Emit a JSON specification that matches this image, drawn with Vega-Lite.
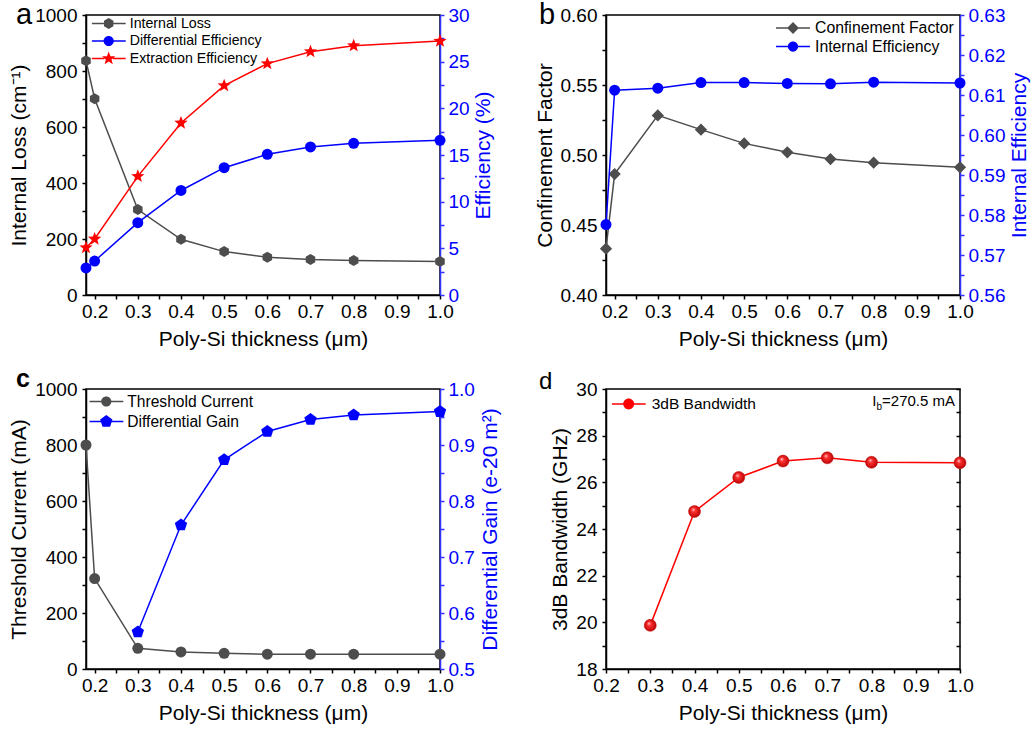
{
  "$schema": "https://vega.github.io/schema/vega-lite/v6.json",
  "background": "white",
  "padding": {"left": 7, "top": 0, "right": 5, "bottom": 5},
  "columns": 2,
  "spacing": {"row": 94, "column": 166},
  "bounds": "flush",
  "resolve": {"scale": {"color": "independent", "shape": "independent"}, "legend": {"color": "independent", "shape": "independent"}},
  "config": {
    "font": "Liberation Sans",
    "view": {"stroke": "#000", "strokeWidth": 1.5},
    "axis": {"grid": false, "domainColor": "#000", "domainWidth": 1.5, "tickColor": "#000", "tickWidth": 1.5, "tickSize": 4, "labelFont": "Liberation Sans", "labelFontSize": 19, "labelColor": "#000", "labelPadding": 3, "labelFlush": false, "labelOverlap": false, "labelBound": false, "titleFont": "Liberation Sans", "titleFontSize": 21, "titleFontWeight": "normal", "titleColor": "#000", "titlePadding": 4},
    "axisY": {"labelPadding": 5, "titlePadding": 5},
    "legend": {"labelFont": "Liberation Sans", "labelFontSize": 15, "labelColor": "#000", "symbolSize": 1156, "symbolStrokeWidth": 0, "symbolOpacity": 1, "clipHeight": 17, "padding": 0, "labelLimit": 400, "labelOffset": 4}
  },
  "datasets": {
    "a": [
      {"x": 0.18, "loss": 837, "de": 2.9, "ee": 5.07},
      {"x": 0.2, "loss": 701, "de": 3.64, "ee": 6.0},
      {"x": 0.3, "loss": 305, "de": 7.75, "ee": 12.71},
      {"x": 0.4, "loss": 199, "de": 11.2, "ee": 18.43},
      {"x": 0.5, "loss": 155, "de": 13.64, "ee": 22.43},
      {"x": 0.6, "loss": 135, "de": 15.07, "ee": 24.79},
      {"x": 0.7, "loss": 127, "de": 15.86, "ee": 26.07},
      {"x": 0.8, "loss": 123, "de": 16.25, "ee": 26.71},
      {"x": 1.0, "loss": 120, "de": 16.57, "ee": 27.21}
    ],
    "b": [
      {"x": 0.18, "cf": 0.4331, "ie": 0.5776},
      {"x": 0.2, "cf": 0.4864, "ie": 0.6112},
      {"x": 0.3, "cf": 0.5283, "ie": 0.6117},
      {"x": 0.4, "cf": 0.5181, "ie": 0.6131},
      {"x": 0.5, "cf": 0.5083, "ie": 0.6131},
      {"x": 0.6, "cf": 0.5019, "ie": 0.6129},
      {"x": 0.7, "cf": 0.4971, "ie": 0.6128},
      {"x": 0.8, "cf": 0.4945, "ie": 0.6132},
      {"x": 1.0, "cf": 0.4912, "ie": 0.613}
    ],
    "c": [
      {"x": 0.18, "tc": 800, "dg": null},
      {"x": 0.2, "tc": 323, "dg": null},
      {"x": 0.3, "tc": 74, "dg": 0.566},
      {"x": 0.4, "tc": 61, "dg": 0.757},
      {"x": 0.5, "tc": 56, "dg": 0.8735},
      {"x": 0.6, "tc": 53, "dg": 0.924},
      {"x": 0.7, "tc": 53, "dg": 0.9454},
      {"x": 0.8, "tc": 53, "dg": 0.9537},
      {"x": 1.0, "tc": 53, "dg": 0.9596}
    ],
    "d": [
      {"x": 0.3, "bw": 19.87},
      {"x": 0.4, "bw": 24.75},
      {"x": 0.5, "bw": 26.21},
      {"x": 0.6, "bw": 26.91},
      {"x": 0.7, "bw": 27.05},
      {"x": 0.8, "bw": 26.86},
      {"x": 1.0, "bw": 26.84}
    ]
  },
  "concat": [
    {
      "width": 354, "height": 280,
      "data": {"name": "a"},
      "layer": [
        {"layer": [
          {"mark": {"type": "line", "color": "#4d4d4d", "strokeWidth": 1.5},
           "encoding": {
             "x": {"field": "x", "type": "quantitative", "scale": {"domain": [0.18, 1.0], "nice": false, "zero": false}, "axis": {"values": [0.2,0.25,0.3,0.35,0.4,0.45,0.5,0.55,0.6,0.65,0.7,0.75,0.8,0.85,0.9,0.95,1.0], "labelExpr": "round(datum.value*100) % 10 == 0 ? format(datum.value, '.1f') : ''", "title": "Poly-Si thickness (μm)", "titlePadding": 7}},
             "y": {"field": "loss", "type": "quantitative", "scale": {"domain": [0, 1000], "nice": false, "zero": false}, "axis": {"orient": "left", "values": [0,100,200,300,400,500,600,700,800,900,1000], "labelExpr": "round(datum.value) % 200 == 0 ? format(datum.value, 'd') : ''", "title": "Internal Loss (cm⁻¹)"}}
           }},
          {"mark": {"type": "point", "filled": true, "opacity": 1, "color": "#4d4d4d", "shape": "M0,-1L0.866,-0.5L0.866,0.5L0,1L-0.866,0.5L-0.866,-0.5Z", "size": 121},
           "encoding": {
             "x": {"field": "x", "type": "quantitative", "scale": {"domain": [0.18, 1.0], "nice": false, "zero": false}, "axis": {"values": [0.2,0.25,0.3,0.35,0.4,0.45,0.5,0.55,0.6,0.65,0.7,0.75,0.8,0.85,0.9,0.95,1.0], "labelExpr": "round(datum.value*100) % 10 == 0 ? format(datum.value, '.1f') : ''", "title": "Poly-Si thickness (μm)", "titlePadding": 7}},
             "y": {"field": "loss", "type": "quantitative", "scale": {"domain": [0, 1000], "nice": false, "zero": false}, "axis": {"orient": "left", "values": [0,100,200,300,400,500,600,700,800,900,1000], "labelExpr": "round(datum.value) % 200 == 0 ? format(datum.value, 'd') : ''", "title": "Internal Loss (cm⁻¹)"}}
           }},
          {"data": {"values": [{"t": "a"}]},
           "mark": {"type": "text", "align": "left", "baseline": "alphabetic", "dx": -70, "dy": 9, "fontSize": 29, "color": "#000"},
           "encoding": {
             "x": {"datum": 0.18, "type": "quantitative", "scale": {"domain": [0.18, 1.0], "nice": false, "zero": false}, "axis": {"values": [0.2,0.25,0.3,0.35,0.4,0.45,0.5,0.55,0.6,0.65,0.7,0.75,0.8,0.85,0.9,0.95,1.0], "labelExpr": "round(datum.value*100) % 10 == 0 ? format(datum.value, '.1f') : ''", "title": "Poly-Si thickness (μm)", "titlePadding": 7}},
             "y": {"datum": 1000, "type": "quantitative", "scale": {"domain": [0, 1000], "nice": false, "zero": false}, "axis": {"orient": "left", "values": [0,100,200,300,400,500,600,700,800,900,1000], "labelExpr": "round(datum.value) % 200 == 0 ? format(datum.value, 'd') : ''", "title": "Internal Loss (cm⁻¹)"}},
             "text": {"field": "t"}
           }}
        ]},
        {"layer": [
          {"mark": {"type": "line", "color": "#0000ff", "strokeWidth": 1.5},
           "encoding": {
             "x": {"field": "x", "type": "quantitative", "scale": {"domain": [0.18, 1.0], "nice": false, "zero": false}, "axis": {"values": [0.2,0.25,0.3,0.35,0.4,0.45,0.5,0.55,0.6,0.65,0.7,0.75,0.8,0.85,0.9,0.95,1.0], "labelExpr": "round(datum.value*100) % 10 == 0 ? format(datum.value, '.1f') : ''", "title": "Poly-Si thickness (μm)", "titlePadding": 7}},
             "y": {"field": "de", "type": "quantitative", "scale": {"domain": [0, 30], "nice": false, "zero": false}, "axis": {"orient": "right", "values": [0,2.5,5,7.5,10,12.5,15,17.5,20,22.5,25,27.5,30], "labelExpr": "round(datum.value*10) % 50 == 0 ? format(datum.value, 'd') : ''", "title": "Efficiency (%)", "titleAngle": 270, "titleBaseline": "top", "labelPadding": 4, "titlePadding": 3, "domainColor": "#3333ff", "tickColor": "#3333ff", "labelColor": "#0000ff", "titleColor": "#0000ff"}}
           }},
          {"mark": {"type": "point", "filled": true, "opacity": 1, "color": "#0000ff", "shape": "circle", "size": 121},
           "encoding": {
             "x": {"field": "x", "type": "quantitative", "scale": {"domain": [0.18, 1.0], "nice": false, "zero": false}, "axis": {"values": [0.2,0.25,0.3,0.35,0.4,0.45,0.5,0.55,0.6,0.65,0.7,0.75,0.8,0.85,0.9,0.95,1.0], "labelExpr": "round(datum.value*100) % 10 == 0 ? format(datum.value, '.1f') : ''", "title": "Poly-Si thickness (μm)", "titlePadding": 7}},
             "y": {"field": "de", "type": "quantitative", "scale": {"domain": [0, 30], "nice": false, "zero": false}, "axis": {"orient": "right", "values": [0,2.5,5,7.5,10,12.5,15,17.5,20,22.5,25,27.5,30], "labelExpr": "round(datum.value*10) % 50 == 0 ? format(datum.value, 'd') : ''", "title": "Efficiency (%)", "titleAngle": 270, "titleBaseline": "top", "labelPadding": 4, "titlePadding": 3, "domainColor": "#3333ff", "tickColor": "#3333ff", "labelColor": "#0000ff", "titleColor": "#0000ff"}}
           }},
          {"mark": {"type": "line", "color": "#ff0000", "strokeWidth": 1.5},
           "encoding": {
             "x": {"field": "x", "type": "quantitative", "scale": {"domain": [0.18, 1.0], "nice": false, "zero": false}, "axis": {"values": [0.2,0.25,0.3,0.35,0.4,0.45,0.5,0.55,0.6,0.65,0.7,0.75,0.8,0.85,0.9,0.95,1.0], "labelExpr": "round(datum.value*100) % 10 == 0 ? format(datum.value, '.1f') : ''", "title": "Poly-Si thickness (μm)", "titlePadding": 7}},
             "y": {"field": "ee", "type": "quantitative", "scale": {"domain": [0, 30], "nice": false, "zero": false}, "axis": {"orient": "right", "values": [0,2.5,5,7.5,10,12.5,15,17.5,20,22.5,25,27.5,30], "labelExpr": "round(datum.value*10) % 50 == 0 ? format(datum.value, 'd') : ''", "title": "Efficiency (%)", "titleAngle": 270, "titleBaseline": "top", "labelPadding": 4, "titlePadding": 3, "domainColor": "#3333ff", "tickColor": "#3333ff", "labelColor": "#0000ff", "titleColor": "#0000ff"}}
           }},
          {"mark": {"type": "point", "filled": true, "opacity": 1, "color": "#ff0000", "shape": "M0,-1L0.247,-0.34L0.951,-0.309L0.399,0.13L0.588,0.809L0,0.42L-0.588,0.809L-0.399,0.13L-0.951,-0.309L-0.247,-0.34Z", "size": 196},
           "encoding": {
             "x": {"field": "x", "type": "quantitative", "scale": {"domain": [0.18, 1.0], "nice": false, "zero": false}, "axis": {"values": [0.2,0.25,0.3,0.35,0.4,0.45,0.5,0.55,0.6,0.65,0.7,0.75,0.8,0.85,0.9,0.95,1.0], "labelExpr": "round(datum.value*100) % 10 == 0 ? format(datum.value, '.1f') : ''", "title": "Poly-Si thickness (μm)", "titlePadding": 7}},
             "y": {"field": "ee", "type": "quantitative", "scale": {"domain": [0, 30], "nice": false, "zero": false}, "axis": {"orient": "right", "values": [0,2.5,5,7.5,10,12.5,15,17.5,20,22.5,25,27.5,30], "labelExpr": "round(datum.value*10) % 50 == 0 ? format(datum.value, 'd') : ''", "title": "Efficiency (%)", "titleAngle": 270, "titleBaseline": "top", "labelPadding": 4, "titlePadding": 3, "domainColor": "#3333ff", "tickColor": "#3333ff", "labelColor": "#0000ff", "titleColor": "#0000ff"}}
           }}
        ]},
        {"data": {"values": [{"s": "Internal Loss"}, {"s": "Differential Efficiency"}, {"s": "Extraction Efficiency"}]},
         "mark": {"type": "point", "filled": true, "opacity": 0, "size": 1156},
         "encoding": {
           "color": {"field": "s", "type": "nominal", "scale": {"domain": ["Internal Loss", "Differential Efficiency", "Extraction Efficiency"], "range": ["#4d4d4d", "#0000ff", "#ff0000"]}, "legend": {"title": null, "orient": "none", "legendX": 5.7, "legendY": 0, "rowPadding": 0.5, "labelFontSize": 14.2}},
           "shape": {"field": "s", "type": "nominal", "scale": {"domain": ["Internal Loss", "Differential Efficiency", "Extraction Efficiency"], "range": [
             "M-1,-0.044H-0.25V0.044H-1ZM0.25,-0.044H1V0.044H0.25ZM0,-0.32L0.277,-0.16L0.277,0.16L0,0.32L-0.277,0.16L-0.277,-0.16Z",
             "M-1,-0.044H-0.25V0.044H-1ZM0.25,-0.044H1V0.044H0.25ZM-0.3,0A0.3,0.3,0,1,1,0.3,0A0.3,0.3,0,1,1,-0.3,0Z",
             "M-1,-0.044H-0.25V0.044H-1ZM0.25,-0.044H1V0.044H0.25ZM0,-0.41L0.101,-0.139L0.39,-0.127L0.164,0.053L0.241,0.332L0,0.172L-0.241,0.332L-0.164,0.053L-0.39,-0.127L-0.101,-0.139Z"
           ]}, "legend": {"title": null, "orient": "none", "legendX": 5.7, "legendY": 0, "rowPadding": 0.5, "labelFontSize": 14.2}}
         }}
      ],
      "resolve": {"scale": {"y": "independent"}}
    },
    {
      "width": 354, "height": 280,
      "data": {"name": "b"},
      "layer": [
        {"layer": [
          {"mark": {"type": "line", "color": "#4d4d4d", "strokeWidth": 1.5},
           "encoding": {
             "x": {"field": "x", "type": "quantitative", "scale": {"domain": [0.18, 1.0], "nice": false, "zero": false}, "axis": {"values": [0.2,0.25,0.3,0.35,0.4,0.45,0.5,0.55,0.6,0.65,0.7,0.75,0.8,0.85,0.9,0.95,1.0], "labelExpr": "round(datum.value*100) % 10 == 0 ? format(datum.value, '.1f') : ''", "title": "Poly-Si thickness (μm)", "titlePadding": 7}},
             "y": {"field": "cf", "type": "quantitative", "scale": {"domain": [0.4, 0.6], "nice": false, "zero": false}, "axis": {"orient": "left", "values": [0.4,0.425,0.45,0.475,0.5,0.525,0.55,0.575,0.6], "labelExpr": "round(datum.value*1000) % 50 == 0 ? format(datum.value, '.2f') : ''", "title": "Confinement Factor"}}
           }},
          {"mark": {"type": "point", "filled": true, "opacity": 1, "color": "#4d4d4d", "shape": "diamond", "size": 150},
           "encoding": {
             "x": {"field": "x", "type": "quantitative", "scale": {"domain": [0.18, 1.0], "nice": false, "zero": false}, "axis": {"values": [0.2,0.25,0.3,0.35,0.4,0.45,0.5,0.55,0.6,0.65,0.7,0.75,0.8,0.85,0.9,0.95,1.0], "labelExpr": "round(datum.value*100) % 10 == 0 ? format(datum.value, '.1f') : ''", "title": "Poly-Si thickness (μm)", "titlePadding": 7}},
             "y": {"field": "cf", "type": "quantitative", "scale": {"domain": [0.4, 0.6], "nice": false, "zero": false}, "axis": {"orient": "left", "values": [0.4,0.425,0.45,0.475,0.5,0.525,0.55,0.575,0.6], "labelExpr": "round(datum.value*1000) % 50 == 0 ? format(datum.value, '.2f') : ''", "title": "Confinement Factor"}}
           }}
        ]},
        {"layer": [
          {"mark": {"type": "line", "color": "#0000ff", "strokeWidth": 1.5},
           "encoding": {
             "x": {"field": "x", "type": "quantitative", "scale": {"domain": [0.18, 1.0], "nice": false, "zero": false}, "axis": {"values": [0.2,0.25,0.3,0.35,0.4,0.45,0.5,0.55,0.6,0.65,0.7,0.75,0.8,0.85,0.9,0.95,1.0], "labelExpr": "round(datum.value*100) % 10 == 0 ? format(datum.value, '.1f') : ''", "title": "Poly-Si thickness (μm)", "titlePadding": 7}},
             "y": {"field": "ie", "type": "quantitative", "scale": {"domain": [0.56, 0.63], "nice": false, "zero": false}, "axis": {"orient": "right", "values": [0.56,0.565,0.57,0.575,0.58,0.585,0.59,0.595,0.6,0.605,0.61,0.615,0.62,0.625,0.63], "labelExpr": "round(datum.value*1000) % 10 == 0 ? format(datum.value, '.2f') : ''", "title": "Internal Efficiency", "titleAngle": 270, "titleBaseline": "top", "labelPadding": 4, "titlePadding": 4, "domainColor": "#3333ff", "tickColor": "#3333ff", "labelColor": "#0000ff", "titleColor": "#0000ff"}}
           }},
          {"mark": {"type": "point", "filled": true, "opacity": 1, "color": "#0000ff", "shape": "circle", "size": 121},
           "encoding": {
             "x": {"field": "x", "type": "quantitative", "scale": {"domain": [0.18, 1.0], "nice": false, "zero": false}, "axis": {"values": [0.2,0.25,0.3,0.35,0.4,0.45,0.5,0.55,0.6,0.65,0.7,0.75,0.8,0.85,0.9,0.95,1.0], "labelExpr": "round(datum.value*100) % 10 == 0 ? format(datum.value, '.1f') : ''", "title": "Poly-Si thickness (μm)", "titlePadding": 7}},
             "y": {"field": "ie", "type": "quantitative", "scale": {"domain": [0.56, 0.63], "nice": false, "zero": false}, "axis": {"orient": "right", "values": [0.56,0.565,0.57,0.575,0.58,0.585,0.59,0.595,0.6,0.605,0.61,0.615,0.62,0.625,0.63], "labelExpr": "round(datum.value*1000) % 10 == 0 ? format(datum.value, '.2f') : ''", "title": "Internal Efficiency", "titleAngle": 270, "titleBaseline": "top", "labelPadding": 4, "titlePadding": 4, "domainColor": "#3333ff", "tickColor": "#3333ff", "labelColor": "#0000ff", "titleColor": "#0000ff"}}
           }},
          {"data": {"values": [{"t": "b"}]},
           "mark": {"type": "text", "align": "left", "baseline": "alphabetic", "dx": -67, "dy": 9, "fontSize": 29, "color": "#000"},
           "encoding": {
             "x": {"datum": 0.18, "type": "quantitative", "scale": {"domain": [0.18, 1.0], "nice": false, "zero": false}, "axis": {"values": [0.2,0.25,0.3,0.35,0.4,0.45,0.5,0.55,0.6,0.65,0.7,0.75,0.8,0.85,0.9,0.95,1.0], "labelExpr": "round(datum.value*100) % 10 == 0 ? format(datum.value, '.1f') : ''", "title": "Poly-Si thickness (μm)", "titlePadding": 7}},
             "y": {"datum": 0.63, "type": "quantitative", "scale": {"domain": [0.56, 0.63], "nice": false, "zero": false}, "axis": {"orient": "right", "values": [0.56,0.565,0.57,0.575,0.58,0.585,0.59,0.595,0.6,0.605,0.61,0.615,0.62,0.625,0.63], "labelExpr": "round(datum.value*1000) % 10 == 0 ? format(datum.value, '.2f') : ''", "title": "Internal Efficiency", "titleAngle": 270, "titleBaseline": "top", "labelPadding": 4, "titlePadding": 4, "domainColor": "#3333ff", "tickColor": "#3333ff", "labelColor": "#0000ff", "titleColor": "#0000ff"}},
             "text": {"field": "t"}
           }}
        ]},
        {"data": {"values": [{"s": "Confinement Factor"}, {"s": "Internal Efficiency"}]},
         "mark": {"type": "point", "filled": true, "opacity": 0, "size": 1156},
         "encoding": {
           "color": {"field": "s", "type": "nominal", "scale": {"domain": ["Confinement Factor", "Internal Efficiency"], "range": ["#4d4d4d", "#0000ff"]}, "legend": {"title": null, "orient": "none", "legendX": 170, "legendY": 4.5, "rowPadding": 1.6, "labelOffset": 5, "labelFontSize": 15.8}},
           "shape": {"field": "s", "type": "nominal", "scale": {"domain": ["Confinement Factor", "Internal Efficiency"], "range": [
             "M-1,-0.044H-0.25V0.044H-1ZM0.25,-0.044H1V0.044H0.25ZM0,-0.35L0.35,0L0,0.35L-0.35,0Z",
             "M-1,-0.044H-0.25V0.044H-1ZM0.25,-0.044H1V0.044H0.25ZM-0.3,0A0.3,0.3,0,1,1,0.3,0A0.3,0.3,0,1,1,-0.3,0Z"
           ]}, "legend": {"title": null, "orient": "none", "legendX": 170, "legendY": 4.5, "rowPadding": 1.6, "labelOffset": 5, "labelFontSize": 15.8}}
         }}
      ],
      "resolve": {"scale": {"y": "independent"}}
    },
    {
      "width": 354, "height": 280,
      "data": {"name": "c"},
      "layer": [
        {"layer": [
          {"mark": {"type": "line", "color": "#4d4d4d", "strokeWidth": 1.5},
           "encoding": {
             "x": {"field": "x", "type": "quantitative", "scale": {"domain": [0.18, 1.0], "nice": false, "zero": false}, "axis": {"values": [0.2,0.25,0.3,0.35,0.4,0.45,0.5,0.55,0.6,0.65,0.7,0.75,0.8,0.85,0.9,0.95,1.0], "labelExpr": "round(datum.value*100) % 10 == 0 ? format(datum.value, '.1f') : ''", "title": "Poly-Si thickness (μm)", "titlePadding": 7}},
             "y": {"field": "tc", "type": "quantitative", "scale": {"domain": [0, 1000], "nice": false, "zero": false}, "axis": {"orient": "left", "values": [0,100,200,300,400,500,600,700,800,900,1000], "labelExpr": "round(datum.value) % 200 == 0 ? format(datum.value, 'd') : ''", "title": "Threshold Current (mA)"}}
           }},
          {"mark": {"type": "point", "filled": true, "opacity": 1, "color": "#4d4d4d", "shape": "circle", "size": 121},
           "encoding": {
             "x": {"field": "x", "type": "quantitative", "scale": {"domain": [0.18, 1.0], "nice": false, "zero": false}, "axis": {"values": [0.2,0.25,0.3,0.35,0.4,0.45,0.5,0.55,0.6,0.65,0.7,0.75,0.8,0.85,0.9,0.95,1.0], "labelExpr": "round(datum.value*100) % 10 == 0 ? format(datum.value, '.1f') : ''", "title": "Poly-Si thickness (μm)", "titlePadding": 7}},
             "y": {"field": "tc", "type": "quantitative", "scale": {"domain": [0, 1000], "nice": false, "zero": false}, "axis": {"orient": "left", "values": [0,100,200,300,400,500,600,700,800,900,1000], "labelExpr": "round(datum.value) % 200 == 0 ? format(datum.value, 'd') : ''", "title": "Threshold Current (mA)"}}
           }},
          {"data": {"values": [{"t": "c"}]},
           "mark": {"type": "text", "align": "left", "baseline": "alphabetic", "dx": -70, "dy": -2, "fontSize": 25, "fontWeight": "bold", "color": "#000"},
           "encoding": {
             "x": {"datum": 0.18, "type": "quantitative", "scale": {"domain": [0.18, 1.0], "nice": false, "zero": false}, "axis": {"values": [0.2,0.25,0.3,0.35,0.4,0.45,0.5,0.55,0.6,0.65,0.7,0.75,0.8,0.85,0.9,0.95,1.0], "labelExpr": "round(datum.value*100) % 10 == 0 ? format(datum.value, '.1f') : ''", "title": "Poly-Si thickness (μm)", "titlePadding": 7}},
             "y": {"datum": 1000, "type": "quantitative", "scale": {"domain": [0, 1000], "nice": false, "zero": false}, "axis": {"orient": "left", "values": [0,100,200,300,400,500,600,700,800,900,1000], "labelExpr": "round(datum.value) % 200 == 0 ? format(datum.value, 'd') : ''", "title": "Threshold Current (mA)"}},
             "text": {"field": "t"}
           }}
        ]},
        {"transform": [{"filter": "isValid(datum.dg)"}],
         "layer": [
          {"mark": {"type": "line", "color": "#0000ff", "strokeWidth": 1.5},
           "encoding": {
             "x": {"field": "x", "type": "quantitative", "scale": {"domain": [0.18, 1.0], "nice": false, "zero": false}, "axis": {"values": [0.2,0.25,0.3,0.35,0.4,0.45,0.5,0.55,0.6,0.65,0.7,0.75,0.8,0.85,0.9,0.95,1.0], "labelExpr": "round(datum.value*100) % 10 == 0 ? format(datum.value, '.1f') : ''", "title": "Poly-Si thickness (μm)", "titlePadding": 7}},
             "y": {"field": "dg", "type": "quantitative", "scale": {"domain": [0.5, 1.0], "nice": false, "zero": false}, "axis": {"orient": "right", "values": [0.5,0.55,0.6,0.65,0.7,0.75,0.8,0.85,0.9,0.95,1.0], "labelExpr": "round(datum.value*100) % 10 == 0 ? format(datum.value, '.1f') : ''", "title": "Differential Gain (e-20 m²)", "titleAngle": 270, "titleBaseline": "top", "labelPadding": 4, "titlePadding": 5, "domainColor": "#3333ff", "tickColor": "#3333ff", "labelColor": "#0000ff", "titleColor": "#0000ff"}}
           }},
          {"mark": {"type": "point", "filled": true, "opacity": 1, "color": "#0000ff", "shape": "M0,-1L0.951,-0.309L0.588,0.809L-0.588,0.809L-0.951,-0.309Z", "size": 169},
           "encoding": {
             "x": {"field": "x", "type": "quantitative", "scale": {"domain": [0.18, 1.0], "nice": false, "zero": false}, "axis": {"values": [0.2,0.25,0.3,0.35,0.4,0.45,0.5,0.55,0.6,0.65,0.7,0.75,0.8,0.85,0.9,0.95,1.0], "labelExpr": "round(datum.value*100) % 10 == 0 ? format(datum.value, '.1f') : ''", "title": "Poly-Si thickness (μm)", "titlePadding": 7}},
             "y": {"field": "dg", "type": "quantitative", "scale": {"domain": [0.5, 1.0], "nice": false, "zero": false}, "axis": {"orient": "right", "values": [0.5,0.55,0.6,0.65,0.7,0.75,0.8,0.85,0.9,0.95,1.0], "labelExpr": "round(datum.value*100) % 10 == 0 ? format(datum.value, '.1f') : ''", "title": "Differential Gain (e-20 m²)", "titleAngle": 270, "titleBaseline": "top", "labelPadding": 4, "titlePadding": 5, "domainColor": "#3333ff", "tickColor": "#3333ff", "labelColor": "#0000ff", "titleColor": "#0000ff"}}
           }}
        ]},
        {"data": {"values": [{"s": "Threshold Current"}, {"s": "Differential Gain"}]},
         "mark": {"type": "point", "filled": true, "opacity": 0, "size": 1156},
         "encoding": {
           "color": {"field": "s", "type": "nominal", "scale": {"domain": ["Threshold Current", "Differential Gain"], "range": ["#4d4d4d", "#0000ff"]}, "legend": {"title": null, "orient": "none", "legendX": 3.3, "legendY": 4, "rowPadding": 2, "labelFontSize": 15.6}},
           "shape": {"field": "s", "type": "nominal", "scale": {"domain": ["Threshold Current", "Differential Gain"], "range": [
             "M-1,-0.044H-0.25V0.044H-1ZM0.25,-0.044H1V0.044H0.25ZM-0.3,0A0.3,0.3,0,1,1,0.3,0A0.3,0.3,0,1,1,-0.3,0Z",
             "M-1,-0.044H-0.25V0.044H-1ZM0.25,-0.044H1V0.044H0.25ZM0,-0.38L0.361,-0.117L0.223,0.307L-0.223,0.307L-0.361,-0.117Z"
           ]}, "legend": {"title": null, "orient": "none", "legendX": 3.3, "legendY": 4, "rowPadding": 2, "labelFontSize": 15.6}}
         }}
      ],
      "resolve": {"scale": {"y": "independent"}}
    },
    {
      "width": 354, "height": 280,
      "data": {"name": "d"},
      "layer": [
        {"layer": [
          {"mark": {"type": "line", "color": "#ff0000", "strokeWidth": 1.5},
           "encoding": {
             "x": {"field": "x", "type": "quantitative", "scale": {"domain": [0.2, 1.0], "nice": false, "zero": false}, "axis": {"values": [0.2,0.25,0.3,0.35,0.4,0.45,0.5,0.55,0.6,0.65,0.7,0.75,0.8,0.85,0.9,0.95,1.0], "labelExpr": "round(datum.value*100) % 10 == 0 ? format(datum.value, '.1f') : ''", "title": "Poly-Si thickness (μm)", "titlePadding": 7}},
             "y": {"field": "bw", "type": "quantitative", "scale": {"domain": [18, 30], "nice": false, "zero": false}, "axis": {"orient": "left", "values": [18,19,20,21,22,23,24,25,26,27,28,29,30], "labelExpr": "round(datum.value) % 2 == 0 ? format(datum.value, 'd') : ''", "title": "3dB Bandwidth (GHz)"}}
           }},
          {"mark": {"type": "point", "filled": true, "opacity": 1, "shape": "circle", "size": 144, "stroke": "#c00000", "strokeWidth": 0.5,
                    "fill": {"gradient": "radial", "x1": 0.38, "y1": 0.32, "r1": 0, "x2": 0.5, "y2": 0.5, "r2": 0.55, "stops": [{"offset": 0, "color": "#ffe0e0"}, {"offset": 0.3, "color": "#ff3030"}, {"offset": 1, "color": "#b00000"}]}},
           "encoding": {
             "x": {"field": "x", "type": "quantitative", "scale": {"domain": [0.2, 1.0], "nice": false, "zero": false}, "axis": {"values": [0.2,0.25,0.3,0.35,0.4,0.45,0.5,0.55,0.6,0.65,0.7,0.75,0.8,0.85,0.9,0.95,1.0], "labelExpr": "round(datum.value*100) % 10 == 0 ? format(datum.value, '.1f') : ''", "title": "Poly-Si thickness (μm)", "titlePadding": 7}},
             "y": {"field": "bw", "type": "quantitative", "scale": {"domain": [18, 30], "nice": false, "zero": false}, "axis": {"orient": "left", "values": [18,19,20,21,22,23,24,25,26,27,28,29,30], "labelExpr": "round(datum.value) % 2 == 0 ? format(datum.value, 'd') : ''", "title": "3dB Bandwidth (GHz)"}}
           }},
          {"data": {"values": [{"t": "d"}]},
           "mark": {"type": "text", "align": "left", "baseline": "alphabetic", "dx": -67, "dy": 0, "fontSize": 24, "color": "#000"},
           "encoding": {
             "x": {"datum": 0.2, "type": "quantitative", "scale": {"domain": [0.2, 1.0], "nice": false, "zero": false}, "axis": {"values": [0.2,0.25,0.3,0.35,0.4,0.45,0.5,0.55,0.6,0.65,0.7,0.75,0.8,0.85,0.9,0.95,1.0], "labelExpr": "round(datum.value*100) % 10 == 0 ? format(datum.value, '.1f') : ''", "title": "Poly-Si thickness (μm)", "titlePadding": 7}},
             "y": {"datum": 30, "type": "quantitative", "scale": {"domain": [18, 30], "nice": false, "zero": false}, "axis": {"orient": "left", "values": [18,19,20,21,22,23,24,25,26,27,28,29,30], "labelExpr": "round(datum.value) % 2 == 0 ? format(datum.value, 'd') : ''", "title": "3dB Bandwidth (GHz)"}},
             "text": {"field": "t"}
           }},
          {"data": {"values": [{"x": 1.0, "bw": 29.29, "t": "=270.5 mA"}]},
           "mark": {"type": "text", "align": "right", "baseline": "alphabetic", "dx": -5, "fontSize": 15, "color": "#000"},
           "encoding": {
             "x": {"field": "x", "type": "quantitative", "scale": {"domain": [0.2, 1.0], "nice": false, "zero": false}, "axis": {"values": [0.2,0.25,0.3,0.35,0.4,0.45,0.5,0.55,0.6,0.65,0.7,0.75,0.8,0.85,0.9,0.95,1.0], "labelExpr": "round(datum.value*100) % 10 == 0 ? format(datum.value, '.1f') : ''", "title": "Poly-Si thickness (μm)", "titlePadding": 7}},
             "y": {"field": "bw", "type": "quantitative", "scale": {"domain": [18, 30], "nice": false, "zero": false}, "axis": {"orient": "left", "values": [18,19,20,21,22,23,24,25,26,27,28,29,30], "labelExpr": "round(datum.value) % 2 == 0 ? format(datum.value, 'd') : ''", "title": "3dB Bandwidth (GHz)"}},
             "text": {"field": "t"}
           }},
          {"data": {"values": [{"x": 1.0, "bw": 29.29, "t": "b"}]},
           "mark": {"type": "text", "align": "right", "baseline": "alphabetic", "dx": -78, "dy": 4, "fontSize": 10, "color": "#000"},
           "encoding": {
             "x": {"field": "x", "type": "quantitative", "scale": {"domain": [0.2, 1.0], "nice": false, "zero": false}, "axis": {"values": [0.2,0.25,0.3,0.35,0.4,0.45,0.5,0.55,0.6,0.65,0.7,0.75,0.8,0.85,0.9,0.95,1.0], "labelExpr": "round(datum.value*100) % 10 == 0 ? format(datum.value, '.1f') : ''", "title": "Poly-Si thickness (μm)", "titlePadding": 7}},
             "y": {"field": "bw", "type": "quantitative", "scale": {"domain": [18, 30], "nice": false, "zero": false}, "axis": {"orient": "left", "values": [18,19,20,21,22,23,24,25,26,27,28,29,30], "labelExpr": "round(datum.value) % 2 == 0 ? format(datum.value, 'd') : ''", "title": "3dB Bandwidth (GHz)"}},
             "text": {"field": "t"}
           }},
          {"data": {"values": [{"x": 1.0, "bw": 29.29, "t": "I"}]},
           "mark": {"type": "text", "align": "right", "baseline": "alphabetic", "dx": -83.6, "fontSize": 15, "color": "#000"},
           "encoding": {
             "x": {"field": "x", "type": "quantitative", "scale": {"domain": [0.2, 1.0], "nice": false, "zero": false}, "axis": {"values": [0.2,0.25,0.3,0.35,0.4,0.45,0.5,0.55,0.6,0.65,0.7,0.75,0.8,0.85,0.9,0.95,1.0], "labelExpr": "round(datum.value*100) % 10 == 0 ? format(datum.value, '.1f') : ''", "title": "Poly-Si thickness (μm)", "titlePadding": 7}},
             "y": {"field": "bw", "type": "quantitative", "scale": {"domain": [18, 30], "nice": false, "zero": false}, "axis": {"orient": "left", "values": [18,19,20,21,22,23,24,25,26,27,28,29,30], "labelExpr": "round(datum.value) % 2 == 0 ? format(datum.value, 'd') : ''", "title": "3dB Bandwidth (GHz)"}},
             "text": {"field": "t"}
           }},
          {"data": {"values": [{"s": "3dB Bandwidth"}]},
           "mark": {"type": "point", "filled": true, "opacity": 0, "size": 1156},
           "encoding": {
             "color": {"field": "s", "type": "nominal", "scale": {"domain": ["3dB Bandwidth"], "range": ["#ff0000"]}, "legend": {"title": null, "orient": "none", "legendX": 5.7, "legendY": 6.5, "labelOffset": 6, "labelFontSize": 15.5}},
             "shape": {"field": "s", "type": "nominal", "scale": {"domain": ["3dB Bandwidth"], "range": [
               "M-1,-0.044H-0.25V0.044H-1ZM0.25,-0.044H1V0.044H0.25ZM-0.32,0A0.32,0.32,0,1,1,0.32,0A0.32,0.32,0,1,1,-0.32,0Z"
             ]}, "legend": {"title": null, "orient": "none", "legendX": 5.7, "legendY": 6.5, "labelOffset": 6, "labelFontSize": 15.5}}
           }}
        ]},
        {"mark": {"type": "point", "opacity": 0},
         "encoding": {
           "x": {"field": "x", "type": "quantitative", "scale": {"domain": [0.2, 1.0], "nice": false, "zero": false}, "axis": {"values": [0.2,0.25,0.3,0.35,0.4,0.45,0.5,0.55,0.6,0.65,0.7,0.75,0.8,0.85,0.9,0.95,1.0], "labelExpr": "round(datum.value*100) % 10 == 0 ? format(datum.value, '.1f') : ''", "title": "Poly-Si thickness (μm)", "titlePadding": 7}},
           "y": {"field": "bw", "type": "quantitative", "scale": {"domain": [18, 30], "nice": false, "zero": false}, "axis": {"orient": "right", "values": [18,19,20,21,22,23,24,25,26,27,28,29,30], "labels": false, "title": null, "domain": false, "tickSize": -4}}
         }}
      ],
      "resolve": {"axis": {"y": "independent"}}
    }
  ]
}
